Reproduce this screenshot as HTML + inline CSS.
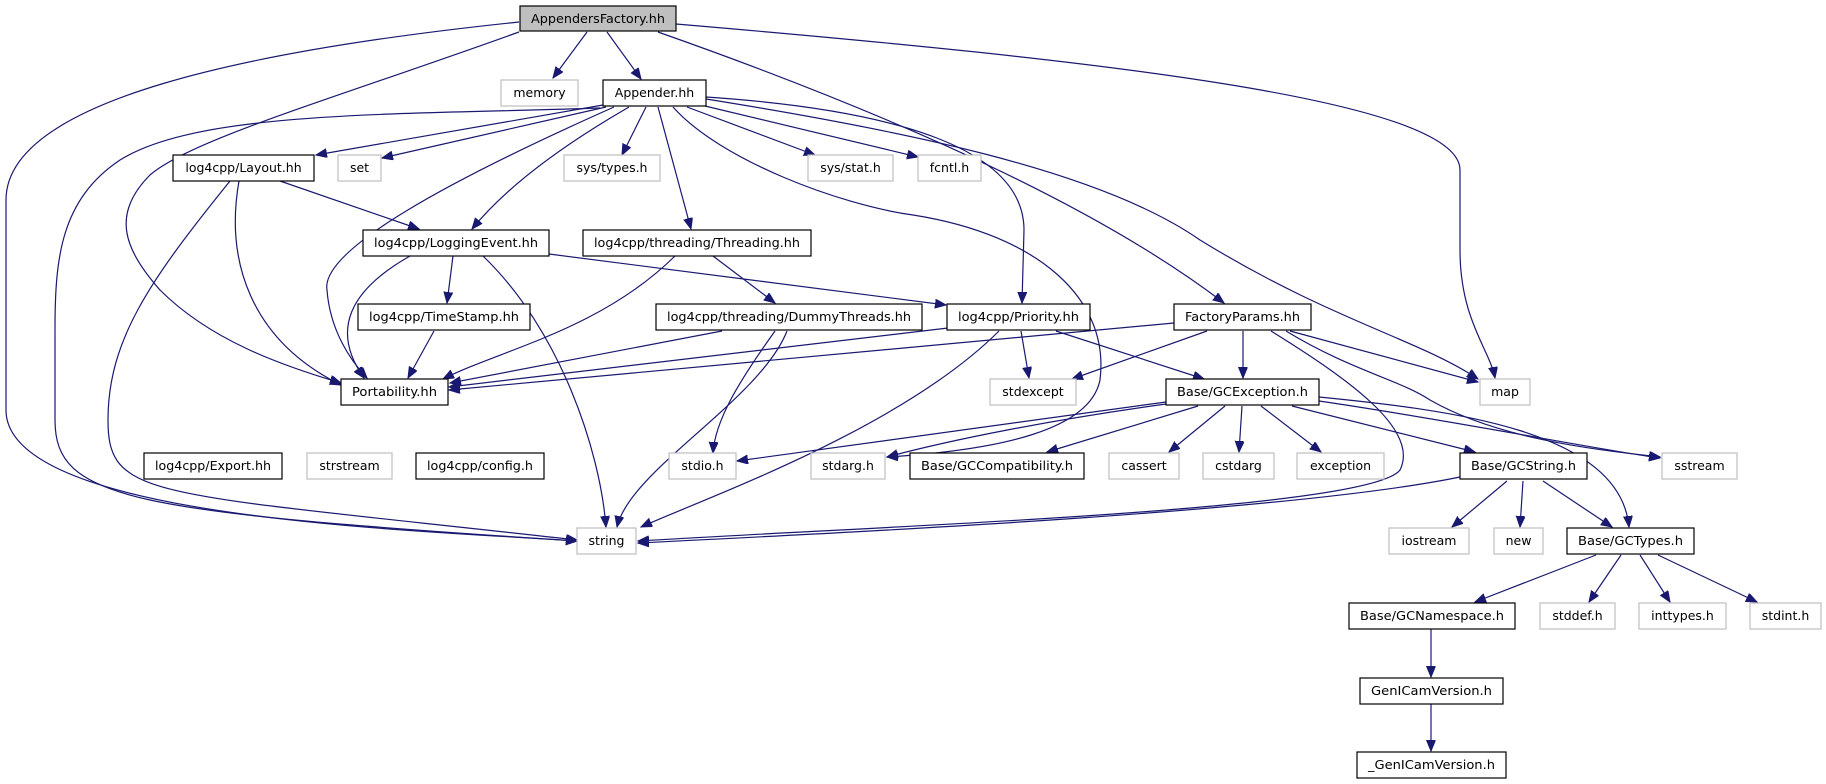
<!DOCTYPE html>
<html><head><meta charset="utf-8"><style>
html,body{margin:0;padding:0;background:#fff;}
svg{display:block;}
text{font-family:"DejaVu Sans","Liberation Sans",sans-serif;font-size:12.5px;fill:#000;}
.e{fill:none;stroke:#191970;stroke-width:1.2;marker-end:url(#a);}
.n{fill:#fff;stroke:#000;stroke-width:1.2;}
.g{fill:#fff;stroke:#bfbfbf;stroke-width:1.2;}
</style></head><body>
<svg width="1826" height="784" viewBox="0 0 1826 784" xmlns="http://www.w3.org/2000/svg">
<defs><marker id="a" markerUnits="userSpaceOnUse" markerWidth="12" markerHeight="10" refX="11" refY="4.5" orient="auto"><path d="M0,0 L11,4.5 L0,9 z" fill="#191970" stroke="#191970"/></marker></defs>
<path class="e" d="M519,22 C250,50 6,100 6,200 L6,410 C6,520 420,530 577,541"/>
<path class="e" d="M519,32 C330,100 190,140 150,175 C110,215 125,250 160,290 C210,340 280,365 341,383"/>
<path class="e" d="M587,32 L553,78"/>
<path class="e" d="M607,32 L641,79"/>
<path class="e" d="M658,32 Q1050,170 1224,303"/>
<path class="e" d="M676,24 C1100,60 1460,100 1460,170 L1460,250 C1460,320 1490,350 1495,378"/>
<path class="e" d="M603,105 L316,155"/>
<path class="e" d="M606,107 L382,158"/>
<path class="e" d="M600,108 C400,115 200,110 120,160 C60,200 55,260 55,330 L55,420 C55,500 130,512 577,541"/>
<path class="e" d="M614,107 C450,180 320,250 327,290 C330,330 350,360 367,378"/>
<path class="e" d="M629,107 Q520,170 472,229"/>
<path class="e" d="M646,107 L622,155"/>
<path class="e" d="M658,107 L691,229"/>
<path class="e" d="M673,107 C720,160 840,205 913,215 C1040,235 1110,300 1100,380 C1090,430 1000,450 887,457"/>
<path class="e" d="M687,107 L815,155"/>
<path class="e" d="M705,106 L918,157"/>
<path class="e" d="M706,97 C900,110 1024,150 1024,230 L1022,303"/>
<path class="e" d="M706,99 C900,130 1100,170 1200,240 C1330,320 1420,340 1478,379"/>
<path class="e" d="M280,181 L419,229"/>
<path class="e" d="M239,181 C225,260 250,340 341,385"/>
<path class="e" d="M230,181 C150,280 108,340 108,420 C108,500 150,492 577,540"/>
<path class="e" d="M410,256 C350,290 330,330 364,378"/>
<path class="e" d="M453,256 L447,303"/>
<path class="e" d="M483,256 C560,330 600,450 606,527"/>
<path class="e" d="M549,254 L946,305"/>
<path class="e" d="M675,256 C600,330 500,350 443,379"/>
<path class="e" d="M713,256 L775,303"/>
<path class="e" d="M434,331 L408,378"/>
<path class="e" d="M722,331 L450,383"/>
<path class="e" d="M775,331 C740,380 715,420 713,453"/>
<path class="e" d="M787,331 C760,400 630,470 617,527"/>
<path class="e" d="M948,328 L449,387"/>
<path class="e" d="M1021,331 L1029,378"/>
<path class="e" d="M1056,331 L1204,379"/>
<path class="e" d="M999,331 C900,430 700,500 641,527"/>
<path class="e" d="M1174,323 L449,390"/>
<path class="e" d="M1207,331 L1072,379"/>
<path class="e" d="M1243,331 L1243,378"/>
<path class="e" d="M1290,331 L1478,382"/>
<path class="e" d="M1286,331 C1350,370 1400,380 1430,400 C1500,440 1600,450 1660,457"/>
<path class="e" d="M1271,331 C1350,380 1420,430 1400,470 C1370,510 900,525 638,541"/>
<path class="e" d="M1166,402 L737,461"/>
<path class="e" d="M1166,404 C1050,420 950,440 887,457"/>
<path class="e" d="M1198,406 L1047,452"/>
<path class="e" d="M1225,406 L1169,452"/>
<path class="e" d="M1242,406 L1239,452"/>
<path class="e" d="M1261,406 L1321,452"/>
<path class="e" d="M1292,406 L1475,452"/>
<path class="e" d="M1319,401 C1450,420 1600,450 1660,458"/>
<path class="e" d="M1319,397 C1450,410 1620,430 1629,527"/>
<path class="e" d="M1460,477 C1300,510 900,530 638,543"/>
<path class="e" d="M1507,481 L1452,527"/>
<path class="e" d="M1523,481 L1520,527"/>
<path class="e" d="M1543,481 L1612,527"/>
<path class="e" d="M1596,555 L1475,602"/>
<path class="e" d="M1621,555 L1589,602"/>
<path class="e" d="M1640,555 L1670,602"/>
<path class="e" d="M1658,555 L1757,602"/>
<path class="e" d="M1431,629 L1431,677"/>
<path class="e" d="M1431,704 L1431,751"/>
<rect x="520" y="6" width="156" height="25" fill="#bfbfbf" stroke="#000" stroke-width="1.2"/><text x="598" y="23" text-anchor="middle" textLength="134" lengthAdjust="spacingAndGlyphs">AppendersFactory.hh</text>
<rect class="g" x="501" y="80" width="77" height="26"/><text x="539.5" y="97" text-anchor="middle">memory</text>
<rect class="n" x="603" y="80" width="103" height="26"/><text x="654.5" y="97" text-anchor="middle">Appender.hh</text>
<rect class="n" x="173" y="155" width="141" height="26"/><text x="243.5" y="172" text-anchor="middle">log4cpp/Layout.hh</text>
<rect class="g" x="338" y="155" width="43" height="26"/><text x="359.5" y="172" text-anchor="middle">set</text>
<rect class="g" x="564" y="155" width="96" height="26"/><text x="612" y="172" text-anchor="middle">sys/types.h</text>
<rect class="g" x="808" y="155" width="85" height="26"/><text x="850.5" y="172" text-anchor="middle">sys/stat.h</text>
<rect class="g" x="918" y="155" width="63" height="26"/><text x="949.5" y="172" text-anchor="middle">fcntl.h</text>
<rect class="n" x="363" y="230" width="186" height="26"/><text x="456" y="247" text-anchor="middle" textLength="164" lengthAdjust="spacingAndGlyphs">log4cpp/LoggingEvent.hh</text>
<rect class="n" x="583" y="230" width="228" height="26"/><text x="697" y="247" text-anchor="middle" textLength="206" lengthAdjust="spacingAndGlyphs">log4cpp/threading/Threading.hh</text>
<rect class="n" x="358" y="304" width="172" height="26"/><text x="444" y="321" text-anchor="middle" textLength="150" lengthAdjust="spacingAndGlyphs">log4cpp/TimeStamp.hh</text>
<rect class="n" x="656" y="304" width="266" height="26"/><text x="789" y="321" text-anchor="middle" textLength="244" lengthAdjust="spacingAndGlyphs">log4cpp/threading/DummyThreads.hh</text>
<rect class="n" x="947" y="304" width="143" height="26"/><text x="1018.5" y="321" text-anchor="middle" textLength="121" lengthAdjust="spacingAndGlyphs">log4cpp/Priority.hh</text>
<rect class="n" x="1174" y="304" width="137" height="26"/><text x="1242.5" y="321" text-anchor="middle" textLength="115" lengthAdjust="spacingAndGlyphs">FactoryParams.hh</text>
<rect class="n" x="341" y="379" width="107" height="26"/><text x="394.5" y="396" text-anchor="middle" textLength="85" lengthAdjust="spacingAndGlyphs">Portability.hh</text>
<rect class="g" x="990" y="379" width="86" height="26"/><text x="1033" y="396" text-anchor="middle">stdexcept</text>
<rect class="n" x="1166" y="379" width="153" height="26"/><text x="1242.5" y="396" text-anchor="middle" textLength="131" lengthAdjust="spacingAndGlyphs">Base/GCException.h</text>
<rect class="g" x="1480" y="379" width="50" height="26"/><text x="1505" y="396" text-anchor="middle">map</text>
<rect class="n" x="144" y="453" width="138" height="26"/><text x="213" y="470" text-anchor="middle" textLength="116" lengthAdjust="spacingAndGlyphs">log4cpp/Export.hh</text>
<rect class="g" x="307" y="453" width="85" height="26"/><text x="349.5" y="470" text-anchor="middle">strstream</text>
<rect class="n" x="416" y="453" width="128" height="26"/><text x="480" y="470" text-anchor="middle" textLength="106" lengthAdjust="spacingAndGlyphs">log4cpp/config.h</text>
<rect class="g" x="669" y="453" width="67" height="26"/><text x="702.5" y="470" text-anchor="middle">stdio.h</text>
<rect class="g" x="811" y="453" width="74" height="26"/><text x="848" y="470" text-anchor="middle">stdarg.h</text>
<rect class="n" x="910" y="453" width="174" height="26"/><text x="997" y="470" text-anchor="middle" textLength="152" lengthAdjust="spacingAndGlyphs">Base/GCCompatibility.h</text>
<rect class="g" x="1109" y="453" width="70" height="26"/><text x="1144" y="470" text-anchor="middle">cassert</text>
<rect class="g" x="1203" y="453" width="71" height="26"/><text x="1238.5" y="470" text-anchor="middle">cstdarg</text>
<rect class="g" x="1297" y="453" width="87" height="26"/><text x="1340.5" y="470" text-anchor="middle">exception</text>
<rect class="n" x="1460" y="453" width="127" height="26"/><text x="1523.5" y="470" text-anchor="middle" textLength="105" lengthAdjust="spacingAndGlyphs">Base/GCString.h</text>
<rect class="g" x="1662" y="453" width="75" height="26"/><text x="1699.5" y="470" text-anchor="middle">sstream</text>
<rect class="g" x="577" y="528" width="59" height="26"/><text x="606.5" y="545" text-anchor="middle">string</text>
<rect class="g" x="1389" y="528" width="80" height="26"/><text x="1429" y="545" text-anchor="middle">iostream</text>
<rect class="g" x="1494" y="528" width="49" height="26"/><text x="1518.5" y="545" text-anchor="middle">new</text>
<rect class="n" x="1567" y="528" width="127" height="26"/><text x="1630.5" y="545" text-anchor="middle" textLength="105" lengthAdjust="spacingAndGlyphs">Base/GCTypes.h</text>
<rect class="n" x="1349" y="603" width="166" height="26"/><text x="1432" y="620" text-anchor="middle" textLength="144" lengthAdjust="spacingAndGlyphs">Base/GCNamespace.h</text>
<rect class="g" x="1540" y="603" width="75" height="26"/><text x="1577.5" y="620" text-anchor="middle">stddef.h</text>
<rect class="g" x="1639" y="603" width="87" height="26"/><text x="1682.5" y="620" text-anchor="middle">inttypes.h</text>
<rect class="g" x="1750" y="603" width="71" height="26"/><text x="1785.5" y="620" text-anchor="middle">stdint.h</text>
<rect class="n" x="1360" y="678" width="143" height="26"/><text x="1431.5" y="695" text-anchor="middle" textLength="121" lengthAdjust="spacingAndGlyphs">GenICamVersion.h</text>
<rect class="n" x="1357" y="752" width="149" height="26"/><text x="1431.5" y="769" text-anchor="middle" textLength="127" lengthAdjust="spacingAndGlyphs">_GenICamVersion.h</text>
</svg>
</body></html>
